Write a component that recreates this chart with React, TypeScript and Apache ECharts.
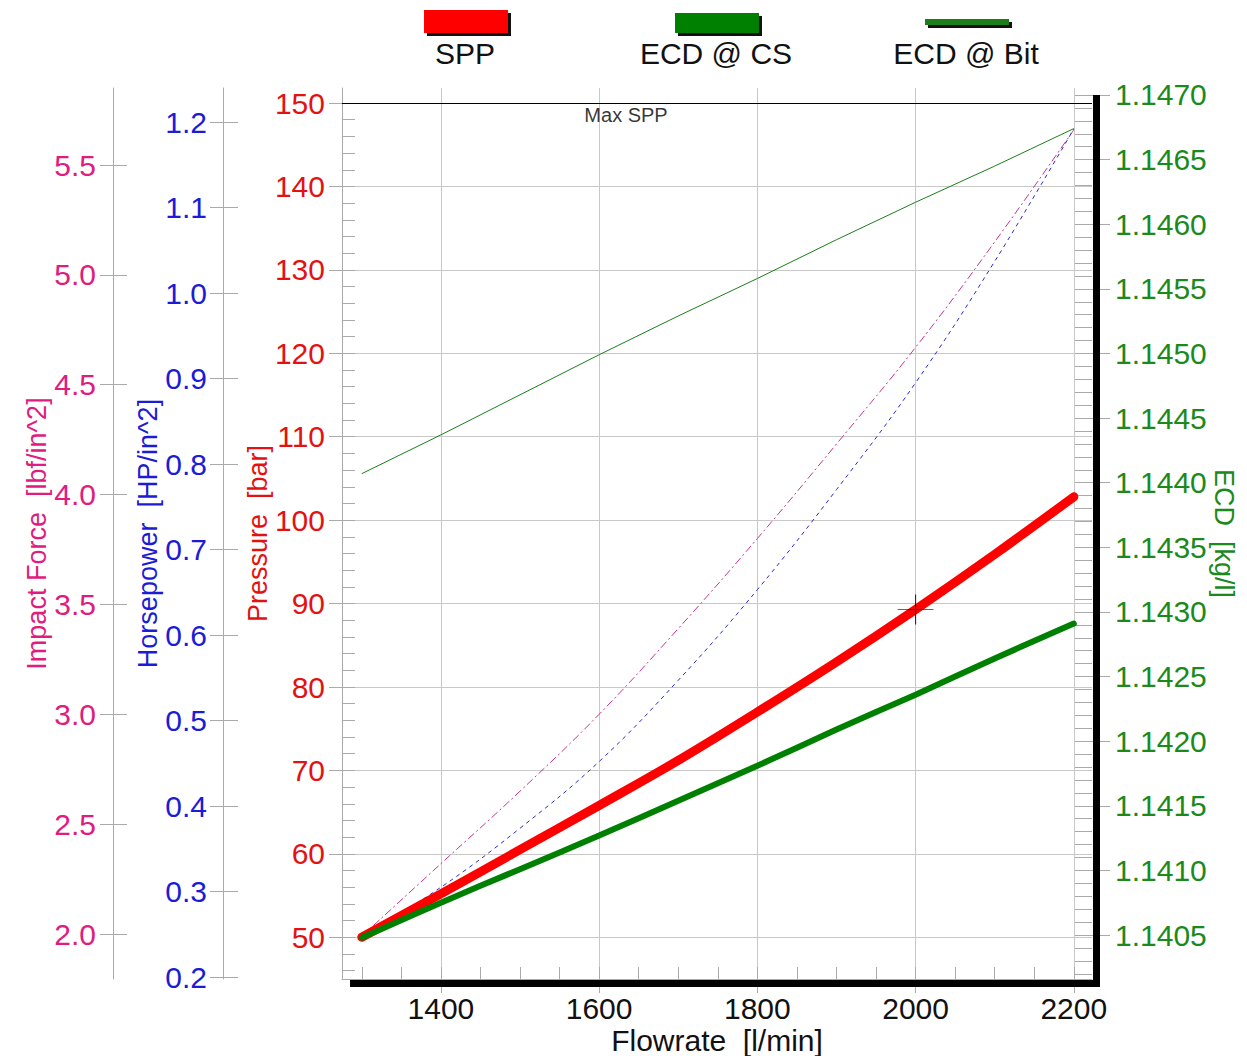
import React, { useEffect, useRef } from "react";
import * as echarts from "echarts";

// ---- data ----
const flowrate = [1300, 1400, 1500, 1600, 1700, 1800, 1900, 2000, 2100, 2200];
const sppBar = [50, 55.2, 60.5, 65.8, 71.2, 77.0, 83.0, 89.3, 95.9, 102.8];
const ecdAtCs = [1.14048, 1.14075, 1.14101, 1.14127, 1.14154, 1.14181, 1.14209, 1.14236, 1.14264, 1.14291];
const ecdAtBit = [1.14407, 1.14437, 1.14468, 1.14499, 1.14529, 1.14558, 1.14588, 1.14617, 1.14645, 1.14674];
const impactForce = [1.99, 2.32, 2.65, 3.0, 3.39, 3.8, 4.23, 4.67, 5.15, 5.66];
const horsepower = [0.247, 0.305, 0.374, 0.452, 0.547, 0.653, 0.77, 0.895, 1.037, 1.192];

const maxSpp = 150;
const maxSppLabelFlow = 1634;
const cursorPoint = [2000, 89.3];

// ---- tick labels ----
const flowTicks = [1400, 1600, 1800, 2000, 2200];
const pressureTicks = [50, 60, 70, 80, 90, 100, 110, 120, 130, 140, 150];
const hpTicks = [0.2, 0.3, 0.4, 0.5, 0.6, 0.7, 0.8, 0.9, 1.0, 1.1, 1.2];
const ifTicks = [2.0, 2.5, 3.0, 3.5, 4.0, 4.5, 5.0, 5.5];
const ecdTicks = [1.1405, 1.141, 1.1415, 1.142, 1.1425, 1.143, 1.1435, 1.144, 1.1445, 1.145, 1.1455, 1.146, 1.1465, 1.147];

const steps = (start: number, end: number, step: number, dec: number) => {
  const out: number[] = [];
  const n = Math.round((end - start) / step);
  for (let i = 0; i <= n; i++) out.push(+(start + i * step).toFixed(dec));
  return out;
};
const flowMinorTicks = steps(1300, 2200, 50, 0);
const pressureMinorTicks = steps(46, 150, 2, 0);
const ecdMinorTicks = steps(1.1402, 1.147, 0.0001, 4);

const FONT = "'Liberation Sans', Arial, Helvetica, sans-serif";
const C_PRESS = "#e31212";
const C_HP = "#1c1cd6";
const C_IF = "#e01c7e";
const C_ECD = "#1b8a1b";
const GRID_C = "#c8c8c8";
const AXIS_C = "#aaaaaa";

const pair = (ys: number[]) => flowrate.map((x, i) => [x, ys[i]]);

export default function App() {
  const ref = useRef<HTMLDivElement>(null);
  useEffect(() => {
    if (!ref.current) return;
    const chart = echarts.init(ref.current, undefined, { renderer: "svg" });

    const hiddenAxisParts = {
      axisLine: { show: false },
      axisLabel: { show: false },
      splitLine: { show: false },
    };

    const option: any = {
      animation: false,
      backgroundColor: "#ffffff",
      textStyle: { fontFamily: FONT },
      grid: { left: 342, right: 155, top: 88, bottom: 77, containLabel: false, outerBoundsMode: "none" },
      xAxis: [
        {
          type: "value",
          min: 1275,
          max: 2223,
          position: "bottom",
          name: "Flowrate  [l/min]",
          nameLocation: "middle",
          nameGap: 46,
          nameMoveOverlap: false,
          nameTextStyle: { color: "#111", fontSize: 30, fontFamily: FONT },
          axisLine: { show: true, lineStyle: { color: AXIS_C, width: 1 } },
          axisTick: { show: true, customValues: flowTicks, length: 14, inside: false, lineStyle: { color: AXIS_C } },
          axisLabel: {
            customValues: flowTicks,
            margin: 14,
            color: "#111",
            fontSize: 30,
            fontFamily: FONT,
            formatter: (v: number) => String(Math.round(v)),
          },
          splitLine: { show: true, lineStyle: { color: GRID_C, width: 1 } },
        },
        {
          type: "value",
          min: 1275,
          max: 2223,
          position: "bottom",
          ...hiddenAxisParts,
          axisTick: { show: true, customValues: flowMinorTicks, length: 12, inside: true, lineStyle: { color: AXIS_C } },
        },
      ],
      yAxis: [
        {
          type: "value",
          min: 45,
          max: 151.8,
          position: "left",
          offset: 0,
          name: "Pressure  [bar]",
          nameLocation: "middle",
          nameGap: 71,
          nameMoveOverlap: false,
          nameTextStyle: { color: C_PRESS, fontSize: 27, fontFamily: FONT },
          axisLine: { show: true, lineStyle: { color: AXIS_C } },
          axisTick: { show: true, customValues: pressureTicks, length: 13, inside: false, lineStyle: { color: AXIS_C } },
          axisLabel: {
            customValues: pressureTicks,
            margin: 17,
            color: C_PRESS,
            fontSize: 30,
            fontFamily: FONT,
            formatter: (v: number) => String(Math.round(v)),
          },
          splitLine: { show: true, lineStyle: { color: GRID_C, width: 1 } },
        },
        {
          type: "value",
          min: 0.1977,
          max: 1.2398,
          position: "left",
          offset: 119,
          name: "Horsepower  [HP/in^2]",
          nameLocation: "middle",
          nameGap: 62,
          nameMoveOverlap: false,
          nameTextStyle: { color: C_HP, fontSize: 27, fontFamily: FONT },
          axisLine: { show: true, lineStyle: { color: AXIS_C } },
          axisTick: { show: true, customValues: hpTicks, length: 13, inside: false, lineStyle: { color: AXIS_C } },
          axisLabel: {
            customValues: hpTicks,
            margin: 16,
            color: C_HP,
            fontSize: 30,
            fontFamily: FONT,
            formatter: (v: number) => v.toFixed(1),
          },
          splitLine: { show: false },
        },
        {
          type: "value",
          min: 1.7952,
          max: 5.8505,
          position: "left",
          offset: 229,
          name: "Impact Force  [lbf/in^2]",
          nameLocation: "middle",
          nameGap: 63,
          nameMoveOverlap: false,
          nameTextStyle: { color: C_IF, fontSize: 27, fontFamily: FONT },
          axisLine: { show: true, lineStyle: { color: AXIS_C } },
          axisTick: { show: true, customValues: ifTicks, length: 13, inside: false, lineStyle: { color: AXIS_C } },
          axisLabel: {
            customValues: ifTicks,
            margin: 17,
            color: C_IF,
            fontSize: 30,
            fontFamily: FONT,
            formatter: (v: number) => v.toFixed(1),
          },
          splitLine: { show: false },
        },
        {
          type: "value",
          min: 1.14016,
          max: 1.147054,
          position: "right",
          offset: 0,
          name: "ECD  [kg/l]",
          nameLocation: "middle",
          nameRotate: -90,
          nameGap: 118,
          nameMoveOverlap: false,
          nameTextStyle: { color: C_ECD, fontSize: 27, fontFamily: FONT },
          axisLine: { show: false },
          axisTick: { show: true, customValues: ecdTicks, length: 18, inside: false, lineStyle: { color: AXIS_C } },
          axisLabel: {
            customValues: ecdTicks,
            margin: 23,
            color: C_ECD,
            fontSize: 30,
            fontFamily: FONT,
            formatter: (v: number) => v.toFixed(4),
          },
          splitLine: { show: false },
        },
        {
          type: "value",
          min: 45,
          max: 151.8,
          position: "left",
          offset: 0,
          ...hiddenAxisParts,
          axisTick: { show: true, customValues: pressureMinorTicks, length: 13, inside: true, lineStyle: { color: AXIS_C } },
        },
        {
          type: "value",
          min: 0.1977,
          max: 1.2398,
          position: "left",
          offset: 119,
          ...hiddenAxisParts,
          axisTick: { show: true, customValues: hpTicks, length: 15, inside: true, lineStyle: { color: AXIS_C } },
        },
        {
          type: "value",
          min: 1.7952,
          max: 5.8505,
          position: "left",
          offset: 229,
          ...hiddenAxisParts,
          axisTick: { show: true, customValues: ifTicks, length: 14, inside: true, lineStyle: { color: AXIS_C } },
        },
        {
          type: "value",
          min: 1.14016,
          max: 1.147054,
          position: "right",
          offset: 0,
          ...hiddenAxisParts,
          axisTick: { show: true, customValues: ecdMinorTicks, length: 17, inside: true, lineStyle: { color: AXIS_C } },
        },
      ],
      series: [
        {
          name: "Impact Force",
          type: "line",
          xAxisIndex: 0,
          yAxisIndex: 2,
          data: pair(impactForce),
          symbol: "none",
          smooth: 0.4,
          lineStyle: { color: "#c8358f", width: 1, type: [8, 3, 2, 3] },
          z: 2,
        },
        {
          name: "Horsepower",
          type: "line",
          xAxisIndex: 0,
          yAxisIndex: 1,
          data: pair(horsepower),
          symbol: "none",
          smooth: 0.4,
          lineStyle: { color: "#2a2acc", width: 1, type: [4, 4] },
          z: 2,
        },
        {
          name: "ECD @ Bit",
          type: "line",
          xAxisIndex: 0,
          yAxisIndex: 3,
          data: pair(ecdAtBit),
          symbol: "none",
          lineStyle: { color: "#1a7f1a", width: 1 },
          z: 3,
        },
        {
          name: "SPP",
          type: "line",
          xAxisIndex: 0,
          yAxisIndex: 0,
          data: pair(sppBar),
          symbol: "none",
          smooth: 0.4,
          lineStyle: { color: "#ff0000", width: 9, cap: "round" },
          z: 4,
          markLine: {
            silent: true,
            symbol: "none",
            label: { show: false },
            lineStyle: { color: "#000", width: 1, type: "solid" },
            data: [{ yAxis: maxSpp }],
          },
        },
        {
          name: "ECD @ CS",
          type: "line",
          xAxisIndex: 0,
          yAxisIndex: 3,
          data: pair(ecdAtCs),
          symbol: "none",
          smooth: 0.4,
          lineStyle: { color: "#008000", width: 6, cap: "round" },
          z: 5,
        },
        {
          name: "Max SPP label",
          type: "scatter",
          xAxisIndex: 0,
          yAxisIndex: 0,
          data: [[maxSppLabelFlow, maxSpp]],
          symbolSize: 1,
          itemStyle: { color: "rgba(0,0,0,0)" },
          label: {
            show: true,
            position: "bottom",
            distance: 1,
            formatter: "Max SPP",
            color: "#000",
            fontSize: 20,
            fontFamily: FONT,
          },
          z: 6,
        },
        {
          name: "Cursor",
          type: "scatter",
          xAxisIndex: 0,
          yAxisIndex: 0,
          data: [cursorPoint],
          symbol: "path://M18,0 L18,30 M0,15 L36,15",
          symbolSize: [36, 30],
          itemStyle: { color: "none", borderColor: "#000", borderWidth: 1 },
          z: 7,
        },
      ],
      graphic: [
        // frame shadow
        { type: "rect", shape: { x: 1093, y: 95, width: 7, height: 892 }, style: { fill: "#000" }, z: 100 },
        { type: "rect", shape: { x: 350, y: 980, width: 750, height: 7 }, style: { fill: "#000" }, z: 100 },
        // legend: SPP
        { type: "rect", shape: { x: 427, y: 13, width: 84, height: 23 }, style: { fill: "#111" }, z: 100 },
        { type: "rect", shape: { x: 424, y: 10, width: 84, height: 23 }, style: { fill: "#ff0000" }, z: 101 },
        {
          type: "text",
          x: 465,
          y: 53,
          style: { text: "SPP", fill: "#111", fontSize: 30, fontFamily: FONT, align: "center", verticalAlign: "middle" },
          z: 101,
        },
        // legend: ECD @ CS
        { type: "rect", shape: { x: 678, y: 16, width: 84, height: 20 }, style: { fill: "#111" }, z: 100 },
        { type: "rect", shape: { x: 675, y: 13, width: 84, height: 20 }, style: { fill: "#008000" }, z: 101 },
        {
          type: "text",
          x: 716,
          y: 53,
          style: { text: "ECD @ CS", fill: "#111", fontSize: 30, fontFamily: FONT, align: "center", verticalAlign: "middle" },
          z: 101,
        },
        // legend: ECD @ Bit
        { type: "rect", shape: { x: 928, y: 22, width: 84, height: 6 }, style: { fill: "#111" }, z: 100 },
        { type: "rect", shape: { x: 925, y: 19, width: 84, height: 6 }, style: { fill: "#1a7f1a" }, z: 101 },
        {
          type: "text",
          x: 966,
          y: 53,
          style: { text: "ECD @ Bit", fill: "#111", fontSize: 30, fontFamily: FONT, align: "center", verticalAlign: "middle" },
          z: 101,
        },
      ],
    };

    chart.setOption(option);
    return () => chart.dispose();
  }, []);

  return (
    <div
      ref={ref}
      style={{ position: "fixed", left: 0, top: 0, width: 1247, height: 1056, background: "#fff" }}
    />
  );
}
